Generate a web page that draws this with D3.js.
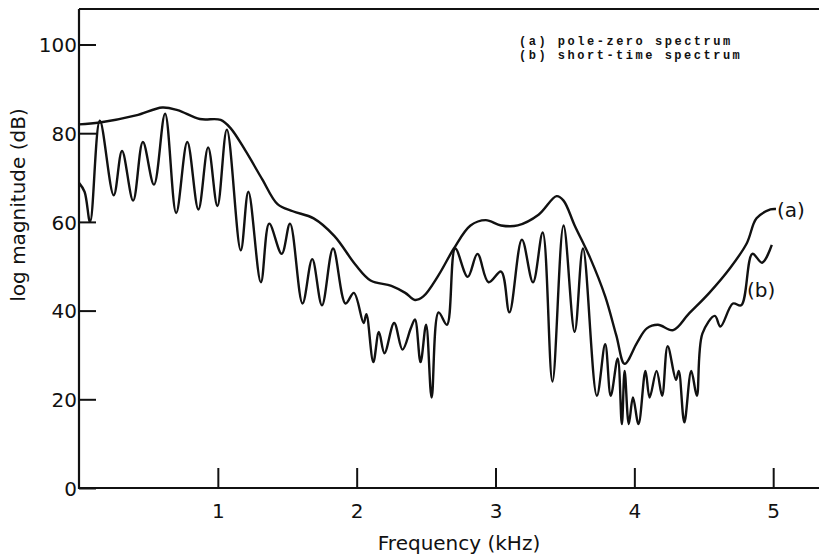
<!DOCTYPE html>
<html>
<head>
<meta charset="utf-8">
<script src="https://cdn.jsdelivr.net/npm/d3@7"></script>
<style>
  body { margin: 0; background: #fff; }
  svg { display: block; }
  .ticks text { font-family: "DejaVu Sans", sans-serif; font-size: 20px; fill: #111; }
  .axisLabel { font-family: "DejaVu Sans", sans-serif; font-size: 20px; fill: #111; }
  .legend { font-family: "Liberation Mono", monospace; font-weight: bold; font-size: 12px; fill: #111; }
</style>
</head>
<body>
<svg id="chart"></svg>
<script>
// (a) pole-zero spectrum: [kHz, dB]
const poleZero = [
  [0.0, 82.0], [0.15, 82.4], [0.41, 84.0], [0.6, 85.8], [0.71, 85.2],
  [0.87, 83.2], [1.02, 83.0], [1.09, 81.2], [1.2, 76.0], [1.32, 69.6],
  [1.43, 64.0], [1.54, 62.4], [1.69, 60.8], [1.84, 56.8], [1.99, 50.4],
  [2.1, 46.8], [2.25, 45.6], [2.35, 44.0], [2.42, 42.4], [2.48, 43.2],
  [2.59, 48.0], [2.7, 54.0], [2.82, 59.2], [2.93, 60.4], [3.04, 59.2],
  [3.16, 59.2], [3.31, 61.6], [3.44, 65.8], [3.49, 64.8], [3.57, 59.2],
  [3.68, 52.0], [3.79, 43.2], [3.87, 34.4], [3.93, 28.0], [4.02, 32.8],
  [4.09, 36.0], [4.17, 36.8], [4.28, 35.6], [4.39, 39.2], [4.54, 44.0],
  [4.69, 49.6], [4.81, 55.2], [4.88, 60.8], [4.98, 62.8], [5.02, 62.9]
];

// (b) short-time spectrum: [kHz, dB]
const shortTime = [
  [0.0, 68.8], [0.04, 66.8], [0.08, 60.0], [0.15, 82.8], [0.25, 66.0],
  [0.31, 76.0], [0.39, 64.8], [0.46, 78.0], [0.54, 68.4], [0.62, 84.4],
  [0.70, 62.0], [0.78, 78.0], [0.86, 62.8], [0.93, 76.8], [0.997, 63.6],
  [1.065, 80.8], [1.165, 53.6], [1.22, 66.8], [1.31, 46.4], [1.37, 59.6],
  [1.46, 52.8], [1.52, 59.6], [1.61, 41.6], [1.68, 51.6], [1.75, 41.2],
  [1.83, 54.0], [1.92, 41.6], [1.98, 44.0], [2.05, 37.2], [2.07, 39.2],
  [2.12, 28.4], [2.16, 35.2], [2.2, 30.4], [2.27, 37.2], [2.33, 31.2],
  [2.39, 36.0], [2.42, 38.0], [2.46, 28.4], [2.5, 36.8], [2.54, 20.4],
  [2.59, 39.6], [2.65, 36.8], [2.71, 54.0], [2.8, 47.6], [2.87, 52.8],
  [2.95, 46.4], [3.04, 48.8], [3.1, 39.6], [3.19, 56.0], [3.27, 46.4],
  [3.34, 57.6], [3.41, 24.0], [3.49, 59.2], [3.57, 35.2], [3.63, 54.0],
  [3.73, 20.8], [3.79, 32.4], [3.83, 20.8], [3.88, 29.2], [3.91, 14.4],
  [3.93, 26.4], [3.96, 14.4], [3.99, 20.4], [4.03, 14.4], [4.08, 26.4],
  [4.11, 20.4], [4.16, 26.4], [4.2, 20.8], [4.24, 32.0], [4.3, 24.4],
  [4.32, 26.4], [4.36, 14.8], [4.41, 26.4], [4.45, 20.8], [4.49, 34.8],
  [4.58, 38.8], [4.62, 36.4], [4.71, 41.6], [4.77, 41.2], [4.85, 52.8],
  [4.92, 50.8], [4.99, 54.8]
];

const xTicks = [1, 2, 3, 4, 5];
const yTicks = [0, 20, 40, 60, 80, 100];
const legendLines = ["(a) pole-zero spectrum", "(b) short-time spectrum"];

const width = 819;
const height = 555;
const margin = { top: 9, right: 0, bottom: 67, left: 79 };

const svg = d3.select("#chart").attr("width", width).attr("height", height);

const x = d3.scaleLinear()
  .domain([0, 5.33])
  .range([margin.left, width - margin.right]);

const y = d3.scaleLinear()
  .domain([0, 100])
  .range([height - margin.bottom, 44.5]);

const lineGenerator = d3.line()
  .x((d) => x(d[0]))
  .y((d) => y(d[1]))
  .curve(d3.curveCatmullRom.alpha(0.5));

// top frame line
svg.append("line")
  .attr("x1", margin.left)
  .attr("x2", width)
  .attr("y1", margin.top)
  .attr("y2", margin.top)
  .attr("stroke", "#111")
  .attr("stroke-width", 2);

// axes, ticks pointing inward
const yAxis = svg.append("g")
  .attr("class", "yAxis ticks")
  .attr("transform", `translate(${margin.left},0)`)
  .call(d3.axisRight(y).tickValues(yTicks).tickSize(17).tickFormat(""));
yAxis.select(".domain").remove();
yAxis.selectAll("line").attr("stroke", "#111").attr("stroke-width", 2);
yAxis.selectAll(".tick")
  .append("text")
  .attr("x", -2)
  .attr("dy", "0.36em")
  .attr("text-anchor", "end")
  .text((d) => d);

const xAxis = svg.append("g")
  .attr("class", "xAxis ticks")
  .attr("transform", `translate(0,${height - margin.bottom})`)
  .call(d3.axisTop(x).tickValues(xTicks).tickSize(20).tickFormat(""));
xAxis.select(".domain").remove();
xAxis.selectAll("line").attr("stroke", "#111").attr("stroke-width", 2);
xAxis.selectAll(".tick")
  .append("text")
  .attr("y", 30)
  .attr("text-anchor", "middle")
  .text((d) => d);

svg.append("line")
  .attr("x1", margin.left)
  .attr("x2", margin.left)
  .attr("y1", margin.top)
  .attr("y2", height - margin.bottom + 1)
  .attr("stroke", "#111")
  .attr("stroke-width", 2.2);

svg.append("line")
  .attr("x1", margin.left - 1)
  .attr("x2", width)
  .attr("y1", height - margin.bottom)
  .attr("y2", height - margin.bottom)
  .attr("stroke", "#111")
  .attr("stroke-width", 2.2);

// spectra
svg.selectAll(".spectrum")
  .data([poleZero, shortTime])
  .join("path")
  .attr("class", "spectrum")
  .attr("fill", "none")
  .attr("stroke", "#111")
  .attr("stroke-width", 2.4)
  .attr("stroke-linejoin", "round")
  .attr("d", lineGenerator);

// curve tags
const lastA = poleZero[poleZero.length - 1];
svg.append("text")
  .attr("class", "axisLabel")
  .attr("x", x(lastA[0]) + 1)
  .attr("y", y(lastA[1]) + 8)
  .text("(a)");

svg.append("text")
  .attr("class", "axisLabel")
  .attr("x", 747)
  .attr("y", 297)
  .text("(b)");

// axis labels
svg.append("text")
  .attr("class", "axisLabel")
  .attr("text-anchor", "middle")
  .attr("x", 459)
  .attr("y", 550)
  .text("Frequency (kHz)");

svg.append("text")
  .attr("class", "axisLabel")
  .attr("text-anchor", "middle")
  .attr("transform", "translate(25,205) rotate(-90)")
  .text("log magnitude (dB)");

// legend
svg.selectAll(".legend")
  .data(legendLines)
  .join("text")
  .attr("class", "legend")
  .attr("x", 519)
  .attr("y", (d, i) => 45 + i * 13.5)
  .attr("textLength", (d) => d.length * 9.6)
  .text((d) => d);
</script>
</body>
</html>
